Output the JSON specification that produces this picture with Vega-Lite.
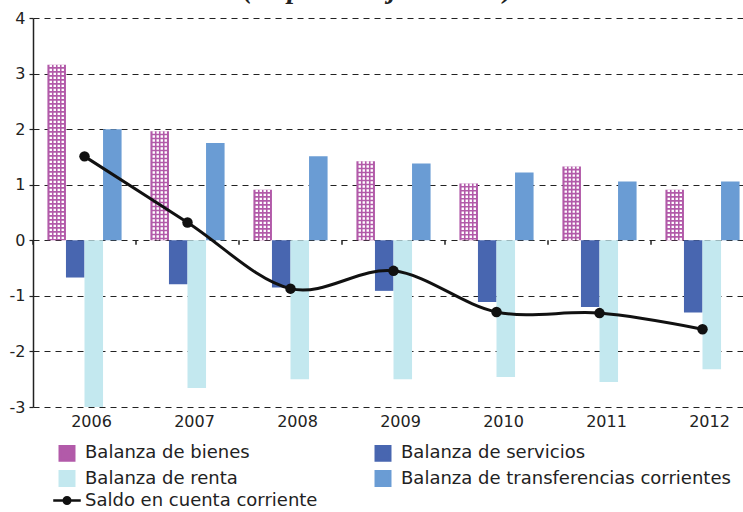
{
  "$schema": "https://vega.github.io/schema/vega-lite/v6.json",
  "width": 710,
  "height": 389,
  "autosize": {"type": "none"},
  "padding": {"left": 33, "top": 18, "right": 0, "bottom": 105},
  "background": "white",
  "title": {"text": "(en porcentaje del PIB)", "font": "Liberation Serif", "fontStyle": "italic", "fontWeight": "bold", "fontSize": 28, "anchor": "middle", "baseline": "alphabetic", "offset": 0, "dy": 16, "dx": -10, "color": "#222"},
  "datasets": {
    "bars": [
      {"year": "2006", "series": "Balanza de bienes", "value": 3.16},
      {"year": "2006", "series": "Balanza de servicios", "value": -0.67},
      {"year": "2006", "series": "Balanza de renta", "value": -3.0},
      {"year": "2006", "series": "Balanza de transferencias corrientes", "value": 2.0},
      {"year": "2007", "series": "Balanza de bienes", "value": 1.96},
      {"year": "2007", "series": "Balanza de servicios", "value": -0.79},
      {"year": "2007", "series": "Balanza de renta", "value": -2.66},
      {"year": "2007", "series": "Balanza de transferencias corrientes", "value": 1.75},
      {"year": "2008", "series": "Balanza de bienes", "value": 0.91},
      {"year": "2008", "series": "Balanza de servicios", "value": -0.85},
      {"year": "2008", "series": "Balanza de renta", "value": -2.5},
      {"year": "2008", "series": "Balanza de transferencias corrientes", "value": 1.51},
      {"year": "2009", "series": "Balanza de bienes", "value": 1.42},
      {"year": "2009", "series": "Balanza de servicios", "value": -0.91},
      {"year": "2009", "series": "Balanza de renta", "value": -2.5},
      {"year": "2009", "series": "Balanza de transferencias corrientes", "value": 1.38},
      {"year": "2010", "series": "Balanza de bienes", "value": 1.02},
      {"year": "2010", "series": "Balanza de servicios", "value": -1.11},
      {"year": "2010", "series": "Balanza de renta", "value": -2.46},
      {"year": "2010", "series": "Balanza de transferencias corrientes", "value": 1.22},
      {"year": "2011", "series": "Balanza de bienes", "value": 1.33},
      {"year": "2011", "series": "Balanza de servicios", "value": -1.2},
      {"year": "2011", "series": "Balanza de renta", "value": -2.55},
      {"year": "2011", "series": "Balanza de transferencias corrientes", "value": 1.06},
      {"year": "2012", "series": "Balanza de bienes", "value": 0.91},
      {"year": "2012", "series": "Balanza de servicios", "value": -1.3},
      {"year": "2012", "series": "Balanza de renta", "value": -2.32},
      {"year": "2012", "series": "Balanza de transferencias corrientes", "value": 1.06}
    ],
    "saldo": [
      {"year": "2006", "value": 1.51},
      {"year": "2007", "value": 0.32},
      {"year": "2008", "value": -0.87},
      {"year": "2009", "value": -0.55},
      {"year": "2010", "value": -1.29},
      {"year": "2011", "value": -1.31},
      {"year": "2012", "value": -1.6}
    ]
  },
  "encoding": {
    "x": {
      "field": "year", "type": "nominal",
      "scale": {"range": [0, 721], "paddingInner": 0.28, "paddingOuter": 0.14},
      "axis": {"orient": "bottom", "domain": false, "ticks": false, "grid": false, "labelAngle": 0, "labelPadding": 6, "labelOffset": 7, "labelFont": "DejaVu Sans", "labelFontSize": 16, "labelColor": "#222", "title": null}
    },
    "y": {
      "field": "value", "type": "quantitative",
      "scale": {"domain": [-3, 4], "nice": false, "zero": false},
      "axis": {"values": [-3, -2, -1, 0, 1, 2, 3, 4], "labelExpr": "'' + datum.value", "title": null, "domainColor": "#222", "domainWidth": 1.5, "tickColor": "#222", "tickSize": 4, "tickWidth": 1.2, "labelFont": "DejaVu Sans", "labelFontSize": 16, "labelColor": "#222", "labelPadding": 4, "grid": true, "gridColor": "#222", "gridDash": [6, 5], "gridWidth": 1}
    }
  },
  "layer": [
    {
      "data": {"name": "bars"},
      "mark": {"type": "bar"},
      "encoding": {
        "xOffset": {"field": "series", "type": "nominal", "sort": ["Balanza de bienes", "Balanza de servicios", "Balanza de renta", "Balanza de transferencias corrientes"], "scale": {"paddingInner": 0, "paddingOuter": 0}},
        "color": {
          "field": "series", "type": "nominal",
          "scale": {
            "domain": ["Balanza de bienes", "Balanza de servicios", "Balanza de renta", "Balanza de transferencias corrientes", "Saldo en cuenta corriente"],
            "range": ["#b25aa9", "#4866b0", "#c3e8ef", "#6a9cd4", "#111111"]
          },
          "legend": {
            "orient": "none", "direction": "horizontal", "legendX": 25, "legendY": 426, "columns": 2, "columnPadding": 52, "rowPadding": -0.5,
            "title": null, "symbolType": "square", "symbolSize": 210, "labelOffset": 9, "labelLimit": 500,
            "labelFont": "DejaVu Sans", "labelFontSize": 18, "labelColor": "#222",
            "encode": {"symbols": {"update": {
              "shape": {"signal": "datum.value === 'Saldo en cuenta corriente' ? 'M-1.9,0H1.9M0.45,0A0.45,0.45,0,1,1,-0.45,0A0.45,0.45,0,1,1,0.45,0Z' : 'square'"},
              "fill": {"scale": "color", "field": "value"},
              "stroke": {"signal": "datum.value === 'Saldo en cuenta corriente' ? '#111111' : 'transparent'"},
              "strokeWidth": {"value": 2.5},
              "opacity": {"value": 1},
              "fillOpacity": {"value": 1}
            }}}
          }
        }
      }
    },
    {
      "data": {"name": "bars"},
      "transform": [{"filter": "datum.series === 'Balanza de bienes'"}],
      "mark": {"type": "rule", "color": "white", "strokeWidth": 2.4, "strokeDash": [2.4, 1.6], "xOffset": -33.75},
      "encoding": {"y2": {"datum": 0}}
    },
    {
      "data": {"name": "bars"},
      "transform": [{"filter": "datum.series === 'Balanza de bienes'"}],
      "mark": {"type": "rule", "color": "white", "strokeWidth": 2.4, "strokeDash": [2.4, 1.6], "xOffset": -29.75},
      "encoding": {"y2": {"datum": 0}}
    },
    {
      "data": {"name": "bars"},
      "transform": [{"filter": "datum.series === 'Balanza de bienes'"}],
      "mark": {"type": "rule", "color": "white", "strokeWidth": 2.4, "strokeDash": [2.4, 1.6], "xOffset": -25.75},
      "encoding": {"y2": {"datum": 0}}
    },
    {
      "data": {"name": "bars"},
      "transform": [{"filter": "datum.series === 'Balanza de bienes'"}],
      "mark": {"type": "rule", "color": "white", "strokeWidth": 2.4, "strokeDash": [2.4, 1.6], "xOffset": -21.75},
      "encoding": {"y2": {"datum": 0}}
    },
    {
      "data": {"values": [{}]},
      "mark": {"type": "rule", "color": "#222", "strokeWidth": 2},
      "encoding": {"x": null, "y": {"datum": 0}}
    },
    {
      "data": {"name": "saldo"},
      "mark": {"type": "rule", "color": "#222", "strokeWidth": 1.5, "xOffset": -51.5},
      "encoding": {"y": {"datum": 0}, "y2": {"datum": -0.08}}
    },
    {
      "data": {"name": "saldo"},
      "mark": {"type": "line", "interpolate": "cardinal", "strokeWidth": 3},
      "encoding": {"color": {"datum": "Saldo en cuenta corriente", "type": "nominal"}}
    },
    {
      "data": {"name": "saldo"},
      "mark": {"type": "circle", "size": 110, "color": "#111", "opacity": 1},
      "encoding": {}
    }
  ],
  "config": {"view": {"stroke": null}}
}
